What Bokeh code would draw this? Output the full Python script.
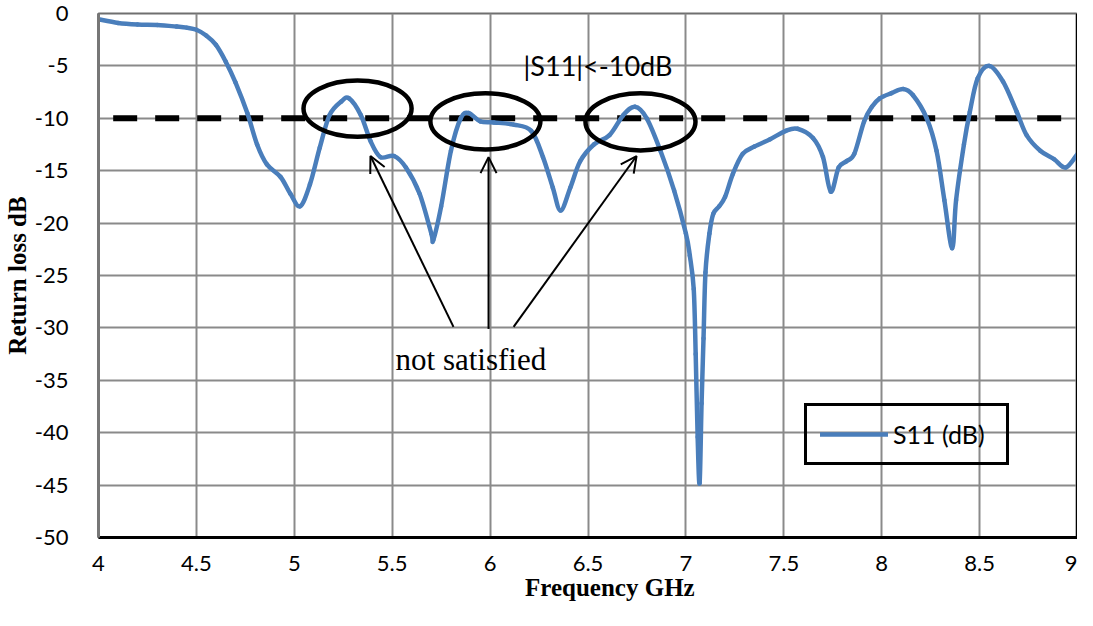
from bokeh.plotting import figure
from bokeh.models import Range1d, Label, Arrow, OpenHead, Span, Legend, LegendItem, FixedTicker, ColumnDataSource
from bokeh.embed import file_html
from bokeh.resources import INLINE

# ---- data ----
freq = [4.00, 4.10, 4.20, 4.30, 4.40, 4.45, 4.50, 4.55, 4.60, 4.65, 4.70, 4.76, 4.81, 4.86,
        4.93, 4.98, 5.03, 5.08, 5.13, 5.18, 5.24, 5.28, 5.34, 5.39, 5.44, 5.51, 5.57, 5.64,
        5.70, 5.71, 5.75, 5.80, 5.85, 5.89, 5.95, 6.02, 6.12, 6.21, 6.27, 6.32, 6.36, 6.41,
        6.46, 6.53, 6.61, 6.68, 6.74, 6.80, 6.87, 6.94, 7.00, 7.02, 7.04, 7.05, 7.06, 7.07,
        7.08, 7.09, 7.10, 7.12, 7.14, 7.17, 7.20, 7.24, 7.29, 7.35, 7.43, 7.51, 7.57, 7.65,
        7.70, 7.74, 7.78, 7.82, 7.86, 7.91, 7.95, 7.99, 8.05, 8.11, 8.16, 8.23, 8.28, 8.32,
        8.36, 8.38, 8.42, 8.45, 8.49, 8.55, 8.62, 8.69, 8.74, 8.81, 8.88, 8.94, 9.00]
s11 = [-0.55, -0.9, -1.05, -1.1, -1.25, -1.35, -1.55, -2.1, -3.0, -4.6, -6.6, -9.5, -12.5, -14.4,
       -15.6, -17.2, -18.4, -16.3, -12.8, -9.7, -8.4, -8.1, -9.7, -12.2, -13.7, -13.6, -14.7, -17.2,
       -21.0, -21.6, -18.4, -13.1, -10.0, -9.5, -10.3, -10.4, -10.6, -11.2, -13.7, -16.6, -18.8, -16.6,
       -14.1, -12.5, -11.6, -9.7, -8.9, -10.0, -13.1, -16.9, -21.0, -23.1, -26.3, -32.5, -40.4, -44.8,
       -37.2, -31.0, -24.7, -21.0, -19.1, -18.4, -17.5, -15.3, -13.4, -12.7, -12.0, -11.2, -11.0, -11.9,
       -13.7, -17.0, -14.7, -14.1, -13.4, -10.3, -8.9, -8.1, -7.6, -7.2, -7.8, -10.0, -13.1, -17.8,
       -22.4, -17.8, -12.5, -9.4, -6.2, -5.0, -6.5, -9.4, -11.6, -13.1, -13.9, -14.7, -13.4]

limit_x = [4.075, 8.93]
limit_db = [-10, -10]

x_ticks = [4, 4.5, 5, 5.5, 6, 6.5, 7, 7.5, 8, 8.5, 9]
x_tick_labels = ["4", "4.5", "5", "5.5", "6", "6.5", "7", "7.5", "8", "8.5", "9"]
y_ticks = [0, -5, -10, -15, -20, -25, -30, -35, -40, -45, -50]
y_tick_labels = ["0", "-5", "-10", "-15", "-20", "-25", "-30", "-35", "-40", "-45", "-50"]

# annotations
ellipse_x = [5.323, 5.976, 6.768]
ellipse_y = [-9.07, -10.29, -10.34]
ellipse_w = [0.552, 0.562, 0.562]
ellipse_h = [5.36, 5.36, 5.45]
arrow_tail_x = [5.813, 5.992, 6.120]
arrow_tail_y = [-29.9, -30.1, -29.9]
arrow_head_x = [5.389, 5.992, 6.748]
arrow_head_y = [-13.6, -13.7, -13.6]

p = figure(width=1077, height=610,
           x_range=Range1d(4, 9), y_range=Range1d(-50, 0),
           output_backend="svg", toolbar_location=None,
           min_border_left=96, min_border_right=0, min_border_top=13, min_border_bottom=73,
           background_fill_color="white", border_fill_color="white")

p.outline_line_color = "#6f6f6f"
p.outline_line_width = 2

# axes
p.xaxis.ticker = FixedTicker(ticks=x_ticks)
p.yaxis.ticker = FixedTicker(ticks=y_ticks)
p.xaxis.major_label_overrides = {float(t): l for t, l in zip(x_ticks, x_tick_labels)}
p.yaxis.major_label_overrides = {float(t): l for t, l in zip(y_ticks, y_tick_labels)}
for ax in (p.xaxis, p.yaxis):
    ax.major_tick_line_color = None
    ax.minor_tick_line_color = None
    ax.major_label_text_font = "Lato"
    ax.major_label_text_font_size = "22px"
    ax.major_label_text_color = "black"
    ax.axis_label_text_font = "Liberation Serif"
    ax.axis_label_text_font_style = "bold"
    ax.axis_label_text_font_size = "25px"
    ax.axis_label_text_color = "black"
p.xaxis.axis_line_color = "black"
p.xaxis.axis_line_width = 3
p.yaxis.axis_line_color = "#777777"
p.yaxis.axis_line_width = 3
p.xaxis.major_label_standoff = 12
p.yaxis.major_label_standoff = 24

p.yaxis.axis_label = "Return loss dB"
p.yaxis.axis_label_standoff = 1
# title sits a little right of the frame centre in the reference
p.xaxis.axis_label = "\u00a0" * 7 + "Frequency GHz"
p.xaxis.axis_label_standoff = 0

p.xgrid.grid_line_color = "#8a8a8a"
p.ygrid.grid_line_color = "#8a8a8a"
p.xgrid.grid_line_width = 2
p.ygrid.grid_line_width = 2

p.add_layout(Span(location=9, dimension="height", line_color="black", line_width=3))

# limit line
p.line(limit_x, limit_db, line_color="black", line_width=6, line_dash="24 18")

# S11 curve, drawn as a smoothed (Catmull-Rom style) bezier through the read points
n = len(freq)
seg = dict(x0=[], y0=[], x1=[], y1=[], cx0=[], cy0=[], cx1=[], cy1=[])
for i in range(n - 1):
    a = max(i - 1, 0)
    b = min(i + 2, n - 1)
    seg["x0"].append(freq[i]); seg["y0"].append(s11[i])
    seg["x1"].append(freq[i + 1]); seg["y1"].append(s11[i + 1])
    seg["cx0"].append(freq[i] + (freq[i + 1] - freq[a]) / 6.0)
    seg["cy0"].append(s11[i] + (s11[i + 1] - s11[a]) / 6.0)
    seg["cx1"].append(freq[i + 1] - (freq[b] - freq[i]) / 6.0)
    seg["cy1"].append(s11[i + 1] - (s11[b] - s11[i]) / 6.0)
curve = p.bezier(x0="x0", y0="y0", x1="x1", y1="y1", cx0="cx0", cy0="cy0", cx1="cx1", cy1="cy1",
                 source=ColumnDataSource(seg), line_color="#4a7ebb", line_width=4.5, line_cap="round")

# ellipses
p.ellipse(x=ellipse_x, y=ellipse_y, width=ellipse_w, height=ellipse_h,
          fill_alpha=0, line_color="black", line_width=4.5)

# arrows
for xs, ys, xe, ye in zip(arrow_tail_x, arrow_tail_y, arrow_head_x, arrow_head_y):
    p.add_layout(Arrow(end=OpenHead(size=16, line_width=2, line_color="black"),
                       x_start=xs, y_start=ys, x_end=xe, y_end=ye,
                       line_width=2, line_color="black"))

p.add_layout(Label(x=5.517, y=-33.0, text="not satisfied", text_font="Liberation Serif",
                   text_font_size="31px", text_color="black", text_baseline="alphabetic"))
p.add_layout(Label(x=6.171, y=-4.98, text="|S11|<-10dB", text_font="Lato",
                   text_font_size="27px", text_color="black", text_baseline="alphabetic"))

legend = Legend(items=[LegendItem(label="S11 (dB)", renderers=[curve])],
                location=(706, 72), padding=13, spacing=0,
                glyph_width=68, glyph_height=20, label_standoff=5, label_width=100,
                label_text_font="Lato", label_text_font_size="25px", label_text_color="black",
                border_line_color="black", border_line_width=3, border_line_alpha=1.0,
                background_fill_alpha=0)
p.add_layout(legend)

open("out.html", "w").write(file_html(p, INLINE))
